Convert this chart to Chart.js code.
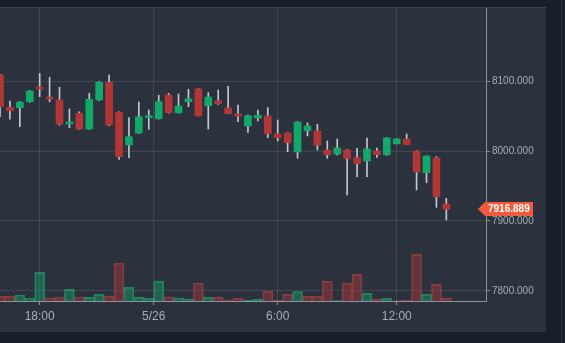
<!DOCTYPE html>
<html>
<head>
<meta charset="utf-8">
<script src="https://cdn.jsdelivr.net/npm/chart.js@4.4.1/dist/chart.umd.min.js"></script>
<style>
  html, body { margin: 0; padding: 0; background: #18202a; width: 565px; height: 343px; overflow: hidden; }
  #panel { position: absolute; left: 0; top: 7px; width: 546px; height: 325px; background: #2b323e; border-top: 1px solid #3b4451; box-sizing: border-box; }
  #wrap { position: absolute; left: 0; top: 8px; width: 546px; height: 324px; }
  #edge { position: absolute; left: 561px; top: 0; width: 1px; height: 343px; background: #222a34; }
</style>
</head>
<body>
<div id="panel"></div>
<div id="edge"></div>
<div id="wrap"><canvas id="candles"></canvas></div>
<script>
// 30 minute candles, 5/25 16:00 -> 5/26 14:30
const times = ["16:00","16:30","17:00","17:30","18:00","18:30","19:00","19:30","20:00","20:30",
  "21:00","21:30","22:00","22:30","23:00","23:30","0:00","0:30","1:00","1:30",
  "2:00","2:30","3:00","3:30","4:00","4:30","5:00","5:30","6:00","6:30",
  "7:00","7:30","8:00","8:30","9:00","9:30","10:00","10:30","11:00","11:30",
  "12:00","12:30","13:00","13:30","14:00","14:30"];

const opens = [8108.6, 8062.4, 8061.9, 8070.4, 8091.4, 8077.1, 8072.9, 8038.6, 8053.9, 8031.4,
  8072.9, 8098.1, 8055.3, 8008.6, 8025.7, 8047.6, 8046.1, 8080.0, 8054.7, 8070.4,
  8088.6, 8064.7, 8071.9, 8061.4, 8052.9, 8035.7, 8047.1, 8050.0, 8024.3, 8025.7,
  7998.6, 8029.0, 8028.6, 8001.4, 7995.7, 8001.4, 7990.4, 7985.7, 8000.0, 7994.7,
  8010.4, 8017.1, 8000.0, 7969.0, 7990.0, 7924.3];
const highs = [8109.5, 8071.4, 8070.5, 8086.5, 8111.0, 8105.3, 8091.0, 8060.0, 8056.1, 8082.4,
  8099.0, 8108.6, 8056.0, 8047.6, 8070.0, 8058.6, 8079.6, 8082.4, 8081.4, 8088.1,
  8089.0, 8083.3, 8087.1, 8092.4, 8065.7, 8051.4, 8058.6, 8061.9, 8044.3, 8026.0,
  8042.0, 8040.0, 8038.1, 8014.3, 8017.1, 8002.0, 8003.9, 8018.6, 8004.3, 8019.0,
  8017.5, 8024.3, 8000.5, 7993.0, 7991.9, 7932.4];
const lows = [8049.0, 8045.3, 8034.7, 8069.5, 8077.6, 8070.4, 8037.1, 8033.3, 8031.0, 8031.0,
  8072.0, 8036.1, 7988.1, 7990.4, 8025.0, 8031.0, 8045.5, 8054.0, 8054.0, 8063.3,
  8050.0, 8031.4, 8066.7, 8053.0, 8041.9, 8026.7, 8042.9, 8019.0, 8014.3, 7999.0,
  7989.6, 8021.4, 8001.4, 7989.6, 7994.3, 7937.1, 7963.3, 7963.3, 7991.0, 7994.0,
  8010.0, 8009.0, 7944.3, 7954.7, 7919.6, 7901.4];
const closes = [8063.3, 8057.6, 8069.6, 8085.7, 8088.6, 8074.3, 8038.6, 8041.4, 8031.4, 8073.9,
  8098.1, 8037.1, 7991.9, 8020.4, 8049.0, 8050.4, 8070.4, 8054.7, 8064.3, 8074.3,
  8050.4, 8077.1, 8067.6, 8053.3, 8050.0, 8050.4, 8051.0, 8024.7, 8019.0, 8011.9,
  8041.4, 8035.7, 8008.6, 7994.7, 8004.3, 7989.0, 7981.9, 8002.9, 7994.7, 8018.6,
  8017.1, 8009.0, 7970.0, 7992.9, 7934.7, 7916.889];
const volumes = [47, 47, 60, 30, 287, 30, 40, 117, 40, 37,
  67, 47, 377, 137, 37, 27, 197, 40, 30, 20,
  177, 37, 37, 10, 27, 7, 17, 97, 7, 67,
  93, 47, 47, 197, 3, 177, 267, 77, 17, 27,
  2, 7, 467, 67, 167, 27];

// x axis labels and the candle index they sit on
const tickLabels = ["18:00", "5/26", "6:00", "12:00"];
const tickAt = [4, 15.5, 28, 40];
const priceTicks = [7800, 7900, 8000, 8100];

const UP = '#12a86a', DOWN = '#b33636';
const FONT = "Arial, 'Liberation Sans', sans-serif";

const bodyColors = closes.map((c, i) => c >= opens[i] ? UP : DOWN);
const volUp = closes.map((c, i) => i === 0 ? c >= opens[0] : c >= closes[i - 1]);

// draws the orange last-price tag on the right axis
const lastPriceTag = {
  id: 'lastPriceTag',
  afterDraw(chart) {
    const ctx = chart.ctx;
    const y = Math.round(chart.scales.y.getPixelForValue(closes[closes.length - 1]));
    const r = chart.chartArea.right;
    ctx.save();
    ctx.fillStyle = '#f25a3c';
    ctx.beginPath();
    ctx.moveTo(r - 8, y);
    ctx.lineTo(r - 1, y - 7);
    ctx.lineTo(r + 47, y - 7);
    ctx.lineTo(r + 47, y + 7);
    ctx.lineTo(r - 1, y + 7);
    ctx.closePath();
    ctx.fill();
    ctx.fillStyle = '#ffffff';
    ctx.font = 'bold 10px ' + FONT;
    ctx.textBaseline = 'middle';
    ctx.textAlign = 'left';
    ctx.fillText(closes[closes.length - 1].toFixed(3), r + 2, y + 0.5);
    ctx.restore();
  }
};

const ctx = document.getElementById('candles').getContext('2d');
new Chart(ctx, {
  type: 'bar',
  data: {
    datasets: [{
      label: 'body',
      data: times.map((t, i) => ({ x: i, y: [opens[i], closes[i]] })),
      backgroundColor: bodyColors,
      borderWidth: 0,
      barThickness: 7,
      grouped: false,
      order: 1,
      yAxisID: 'y'
    }, {
      label: 'wick',
      data: times.map((t, i) => ({ x: i, y: [lows[i], highs[i]] })),
      backgroundColor: '#c3c8cf',
      borderWidth: 0,
      barThickness: 1,
      grouped: false,
      order: 2,
      yAxisID: 'y'
    }, {
      label: 'volume',
      data: volumes.map((v, i) => ({ x: i, y: v })),
      backgroundColor: volUp.map(u => u ? 'rgba(18,168,106,0.42)' : 'rgba(179,54,54,0.42)'),
      borderColor: volUp.map(u => u ? 'rgba(30,180,115,0.6)' : 'rgba(190,70,70,0.6)'),
      borderWidth: 1,
      barPercentage: 1,
      categoryPercentage: 1,
      grouped: false,
      order: 3,
      yAxisID: 'vol'
    }]
  },
  options: {
    responsive: true,
    maintainAspectRatio: false,
    animation: false,
    layout: { padding: 0 },
    plugins: { legend: { display: false }, tooltip: { enabled: false } },
    scales: {
      x: {
        type: 'linear',
        position: 'bottom',
        min: 0,
        max: 49,
        offset: false,
        grid: { color: 'rgba(255,255,255,0.1)', offset: false, tickLength: 4, tickColor: '#8a919b' },
        border: { color: '#8d939c' },
        ticks: {
          color: '#a7adb7',
          font: { family: FONT, size: 12 },
          padding: 4,
          maxRotation: 0,
          autoSkip: false,
          callback: (v, i) => tickLabels[i]
        },
        afterBuildTicks: s => { s.ticks = tickAt.map(v => ({ value: v })); },
        afterFit: s => { s.height = 31; s.paddingLeft = 0; s.paddingRight = 0; }
      },
      y: {
        type: 'linear',
        position: 'right',
        min: 7785.7,
        max: 8204.3,
        grid: { color: 'rgba(255,255,255,0.1)', tickLength: 4, tickColor: '#8a919b' },
        border: { color: '#8d939c' },
        ticks: {
          color: '#a7adb7',
          font: { family: FONT, size: 10 },
          padding: 2,
          callback: v => v.toFixed(3)
        },
        afterBuildTicks: s => { s.ticks = priceTicks.map(v => ({ value: v })); },
        afterFit: s => { s.width = 60; s.paddingTop = 0; s.paddingBottom = 0; }
      },
      vol: {
        type: 'linear',
        display: false,
        min: 0,
        max: 2930
      }
    }
  },
  plugins: [lastPriceTag]
});
</script>
</body>
</html>
